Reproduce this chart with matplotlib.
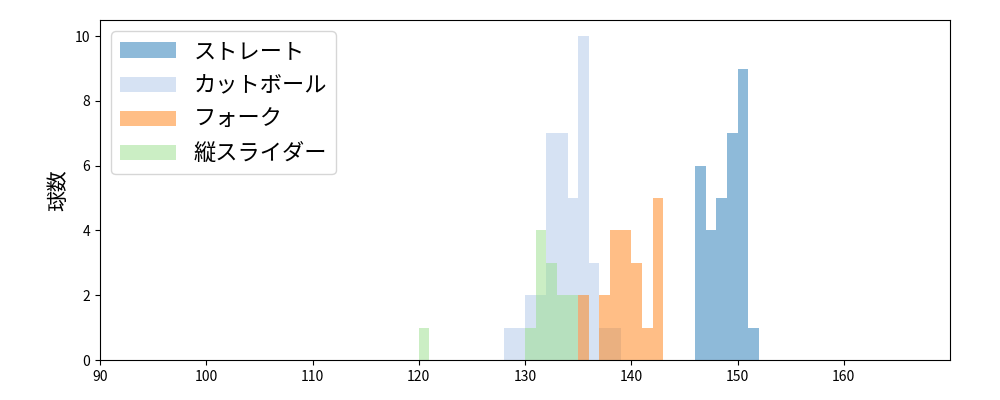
import matplotlib.pyplot as plt
import numpy as np

plt.rcParams['font.family'] = ['Noto Sans CJK JP', 'DejaVu Sans']

# bin left edges (km/h) and counts per pitch type
straight_bins = [146, 147, 148, 149, 150, 151]
straight_cnt = [6, 4, 5, 7, 9, 1]
cut_bins = [128, 129, 130, 131, 132, 133, 134, 135, 136, 137, 138]
cut_cnt = [1, 1, 2, 2, 7, 7, 5, 10, 3, 1, 1]
fork_bins = [135, 136, 137, 138, 139, 140, 141, 142]
fork_cnt = [2, 0, 2, 4, 4, 3, 1, 5]
slider_bins = [120, 130, 131, 132, 133, 134]
slider_cnt = [1, 1, 4, 3, 2, 2]

fig, ax = plt.subplots(figsize=(10, 4), dpi=100)
series = [
    ('ストレート', straight_bins, straight_cnt, '#1f77b4'),
    ('カットボール', cut_bins, cut_cnt, '#aec7e8'),
    ('フォーク', fork_bins, fork_cnt, '#ff7f0e'),
    ('縦スライダー', slider_bins, slider_cnt, '#98df8a'),
]
for name, b, c, col in series:
    ax.bar(b, c, width=1, align='edge', color=col, alpha=0.5, label=name)

ax.set_xlim(90, 170)
ax.set_ylim(0, 10.5)
ax.set_xticks(np.arange(90, 161, 10))
ax.set_yticks(np.arange(0, 11, 2))
ax.set_ylabel('球数', fontsize=15)
ax.legend(loc='upper left', fontsize=16, handlelength=2.5)
plt.subplots_adjust(left=0.1, right=0.95, top=0.95, bottom=0.1)
plt.savefig('out.png')
